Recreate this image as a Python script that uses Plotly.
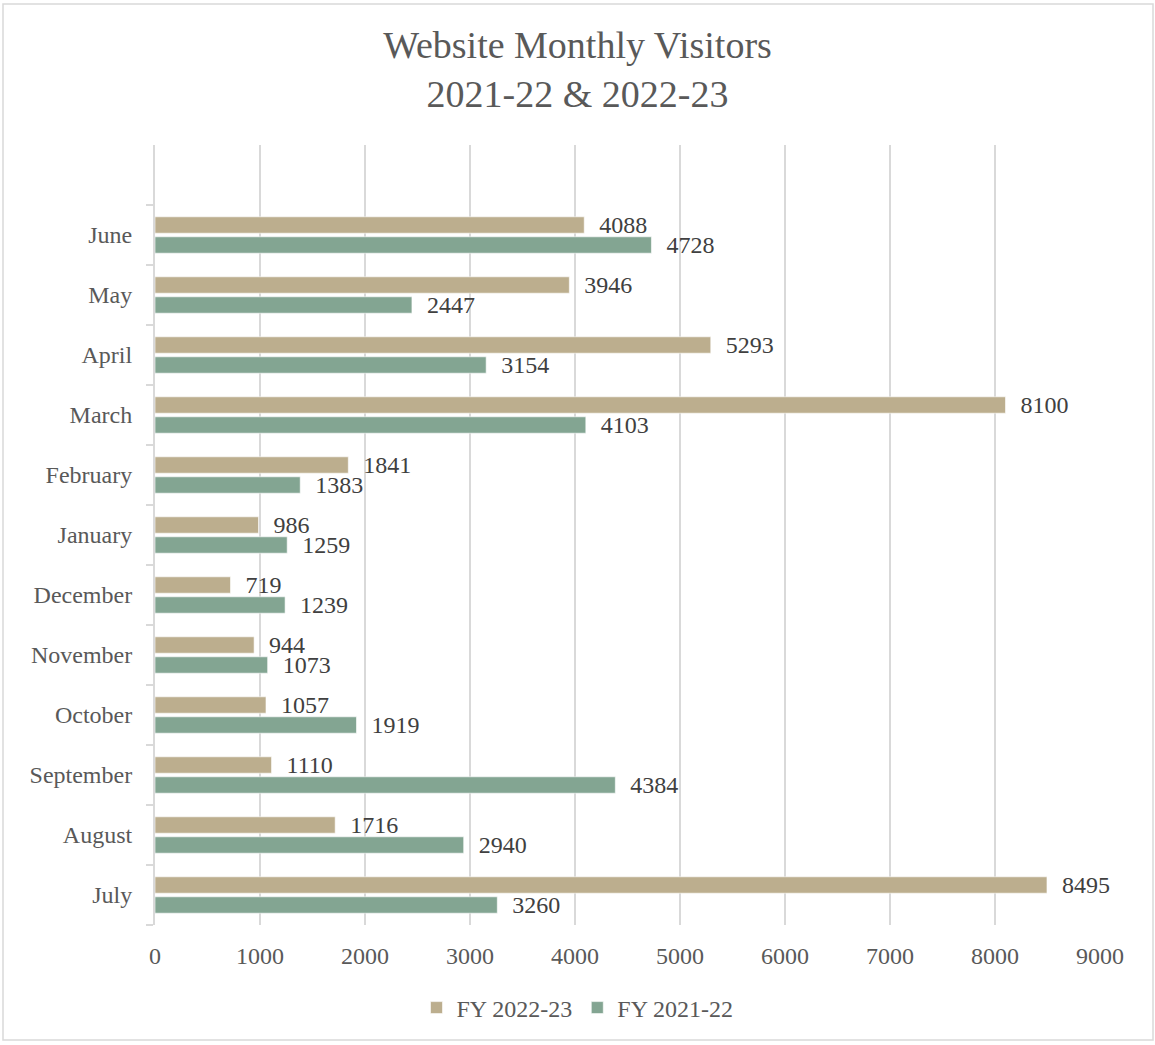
import plotly.graph_objects as go

# Monthly visitor counts by financial year (July through June)
months = ["July", "August", "September", "October", "November", "December",
          "January", "February", "March", "April", "May", "June"]
fy_2022_23 = [8495, 1716, 1110, 1057, 944, 719, 986, 1841, 8100, 5293, 3946, 4088]
fy_2021_22 = [3260, 2940, 4384, 1919, 1073, 1239, 1259, 1383, 4103, 3154, 2447, 4728]
x_ticks = [0, 1000, 2000, 3000, 4000, 5000, 6000, 7000, 8000, 9000]

TAN = "#BCAE8E"
GREEN = "#83A592"
TEXT = "#595959"
GRID = "#D9D9D9"
FONT = "Liberation Serif"

W, H = 1155, 1045
ML, MR, MT, MB = 155, 55, 145, 120
pw, ph = W - ML - MR, H - MT - MB

fig = go.Figure()

# First trace sits lower in each category group, so the older year goes first
fig.add_trace(go.Bar(
    name="FY 2021-22", y=months, x=fy_2021_22, orientation="h",
    marker=dict(color=GREEN, line=dict(color="white", width=0.6)),
    text=fy_2021_22, texttemplate="  %{x}", textposition="outside",
    textfont=dict(family=FONT, size=24, color="#404040"),
    constraintext="none", cliponaxis=False,
))
fig.add_trace(go.Bar(
    name="FY 2022-23", y=months, x=fy_2022_23, orientation="h",
    marker=dict(color=TAN, line=dict(color="white", width=0.6)),
    text=fy_2022_23, texttemplate="  %{x}", textposition="outside",
    textfont=dict(family=FONT, size=24, color="#404040"),
    constraintext="none", cliponaxis=False,
))

# Light frame around the whole chart
fig.add_shape(
    type="rect", xref="paper", yref="paper",
    x0=(3 - ML) / pw, x1=(W - 2 - ML) / pw,
    y0=(MT + ph - (H - 5)) / ph, y1=(MT + ph - 4) / ph,
    line=dict(color=GRID, width=1.5), fillcolor="rgba(0,0,0,0)", layer="below",
)

fig.update_layout(
    width=W, height=H,
    margin=dict(l=ML, r=MR, t=MT, b=MB),
    paper_bgcolor="white", plot_bgcolor="white",
    barmode="group", bargap=1 / 3, bargroupgap=0.18,
    font=dict(family=FONT, color=TEXT),
    title=dict(
        text="Website Monthly Visitors<br>2021-22 & 2022-23",
        x=0.5, xref="container", xanchor="center",
        y=1 - 58 / H, yref="container", yanchor="middle",
        font=dict(family=FONT, size=38, color=TEXT),
    ),
    xaxis=dict(
        range=[0, 9000], tickvals=x_ticks, ticktext=[str(v) for v in x_ticks],
        showgrid=True, gridcolor=GRID, gridwidth=2,
        zeroline=False, showline=False, ticks="",
        tickfont=dict(family=FONT, size=24, color=TEXT),
        ticklabelstandoff=14,
    ),
    yaxis=dict(
        type="category", categoryorder="array", categoryarray=months,
        range=[-0.5, 12.5],
        showgrid=False, showline=True, linecolor=GRID, linewidth=2,
        ticks="outside", tickson="boundaries", ticklen=7, tickcolor=GRID, tickwidth=2,
        tickfont=dict(family=FONT, size=24, color=TEXT),
        ticklabelstandoff=16,
    ),
    legend=dict(
        orientation="h", x=0.5, xref="container", xanchor="center",
        y=(H - 1008) / H, yref="container", yanchor="middle",
        traceorder="reversed",
        font=dict(family=FONT, size=24, color=TEXT),
        itemwidth=30,
    ),
)

fig.write_html("out.html")
